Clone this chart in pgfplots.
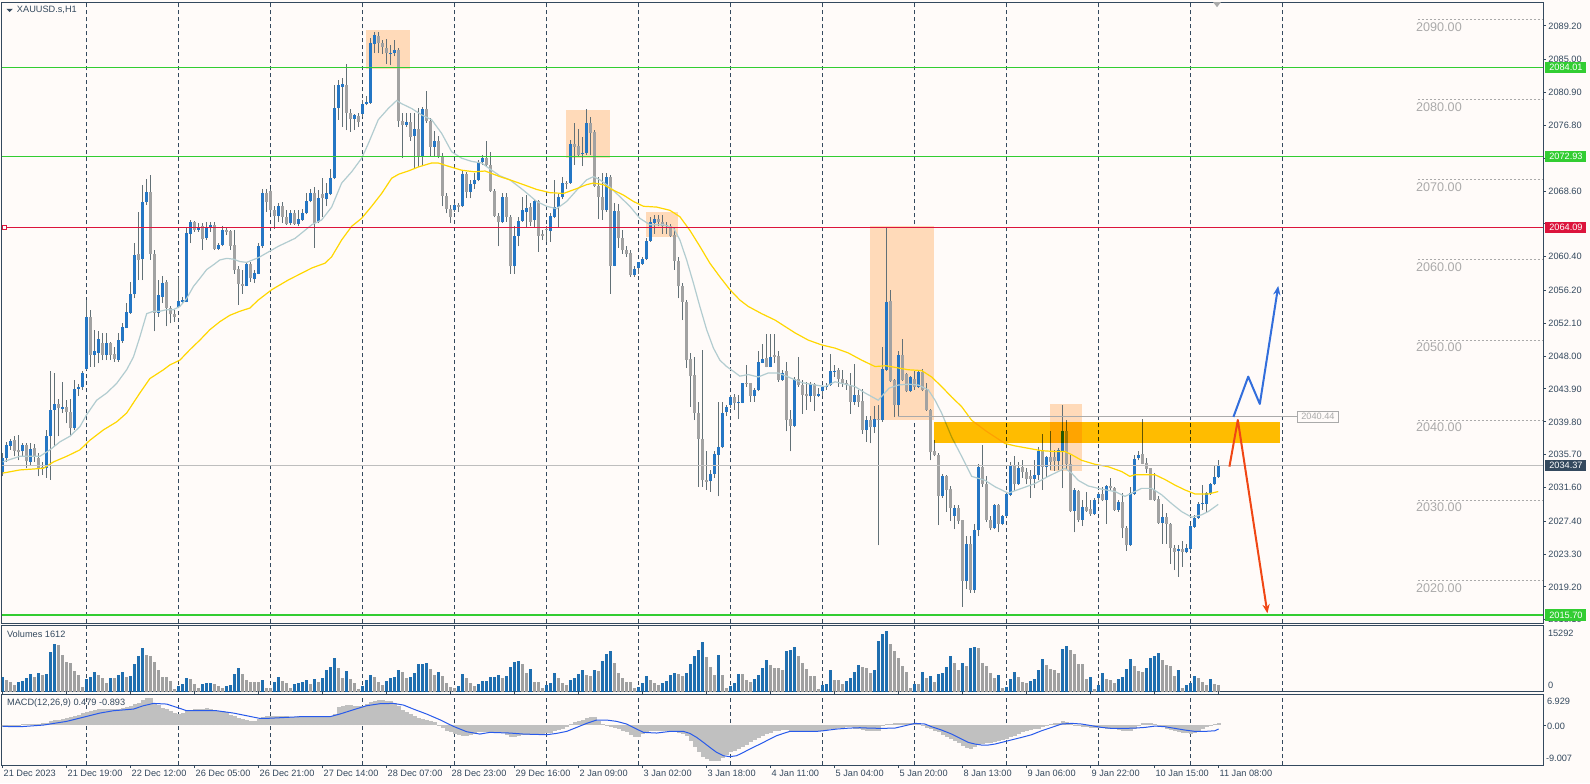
\documentclass[border=0pt]{standalone}
\usepackage{pgfplots}
\pgfplotsset{compat=1.18}
\usepackage{pgfplotstable}
\usepackage{fontspec}
\setmainfont{Liberation Sans}
\usetikzlibrary{arrows.meta}
\definecolor{bg}{RGB}{255,251,249}
\definecolor{frame}{RGB}{52,73,94}
\definecolor{upc}{RGB}{36,118,196}
\definecolor{dnc}{RGB}{162,162,162}
\definecolor{wick}{RGB}{98,112,118}
\definecolor{fastma}{RGB}{178,204,208}
\definecolor{slowma}{RGB}{255,215,0}
\definecolor{lgreen}{RGB}{50,205,50}
\definecolor{lred}{RGB}{220,20,60}
\definecolor{cur}{RGB}{190,190,190}
\definecolor{peach}{RGB}{255,218,185}
\definecolor{ybox}{RGB}{255,192,0}
\definecolor{lbl}{RGB}{170,170,170}
\definecolor{histc}{RGB}{192,192,192}
\definecolor{sigc}{RGB}{40,90,235}
\definecolor{volb}{RGB}{31,110,175}
\definecolor{volg}{RGB}{160,160,160}
\definecolor{arrb}{RGB}{50,110,220}
\definecolor{arrr}{RGB}{240,70,20}
\newcommand{\smf}{\fontsize{4.6}{5.5}\selectfont}
\newcommand{\lgf}{\fontsize{6.3}{7.5}\selectfont}

\pgfplotstableread{
i O H L C
0 2033.6 2035.9 2033.0 2035.3
1 2035.3 2037.3 2034.8 2036.9
2 2036.8 2037.6 2036.3 2037.4
3 2037.5 2038.0 2035.5 2036.2
4 2036.3 2038.1 2035.0 2036.0
5 2036.1 2037.1 2035.5 2036.9
6 2036.9 2037.2 2034.0 2034.9
7 2034.8 2037.1 2034.4 2036.4
8 2036.5 2037.0 2034.8 2035.4
9 2035.3 2035.9 2033.0 2034.1
10 2034.2 2034.8 2033.2 2034.0
11 2034.0 2038.8 2032.8 2038.0
12 2038.0 2046.1 2032.6 2041.3
13 2041.3 2045.9 2036.7 2042.0
14 2042.0 2042.7 2038.0 2041.5
15 2041.4 2044.8 2040.9 2041.7
16 2041.7 2042.5 2039.6 2041.0
17 2041.0 2042.7 2038.0 2039.0
18 2039.0 2045.0 2038.8 2043.9
19 2043.9 2044.5 2043.0 2044.2
20 2044.1 2046.1 2043.8 2045.9
21 2046.4 2055.0 2046.3 2052.9
22 2052.9 2053.8 2046.7 2048.2
23 2048.2 2051.3 2046.7 2048.7
24 2048.4 2051.1 2047.1 2050.2
25 2049.7 2050.9 2047.5 2048.2
26 2048.2 2050.9 2047.5 2049.6
27 2049.6 2049.8 2047.5 2048.2
28 2048.3 2049.2 2047.3 2047.6
29 2047.5 2050.9 2047.3 2050.0
30 2049.9 2052.1 2049.7 2051.6
31 2051.5 2054.6 2051.5 2053.5
32 2053.4 2057.3 2053.3 2055.8
33 2055.7 2062.1 2055.2 2060.6
34 2060.7 2066.0 2057.5 2060.0
35 2060.1 2069.4 2057.5 2067.2
36 2067.2 2070.1 2066.9 2068.5
37 2068.5 2070.6 2060.0 2060.8
38 2060.8 2061.3 2051.1 2053.4
39 2053.4 2057.5 2052.9 2055.6
40 2055.4 2058.0 2054.6 2057.1
41 2057.3 2057.5 2051.7 2054.0
42 2054.0 2054.2 2052.1 2053.2
43 2053.3 2053.8 2052.3 2052.9
44 2054.1 2057.9 2054.0 2054.9
45 2054.8 2055.4 2054.6 2055.0
46 2054.8 2064.0 2054.7 2063.4
47 2063.3 2065.0 2062.1 2064.7
48 2064.7 2064.9 2063.5 2063.8
49 2063.8 2064.6 2063.5 2064.0
50 2064.2 2064.6 2061.3 2062.6
51 2062.8 2064.8 2062.5 2064.0
52 2064.0 2064.8 2063.5 2064.4
53 2064.4 2064.8 2061.3 2061.4
54 2061.4 2062.1 2061.3 2061.9
55 2061.9 2064.2 2061.7 2063.8
56 2063.8 2064.0 2063.1 2063.5
57 2063.6 2063.8 2061.3 2061.8
58 2061.9 2063.8 2058.3 2058.7
59 2058.9 2059.2 2054.4 2057.0
60 2057.0 2058.8 2055.8 2056.8
61 2056.8 2059.8 2056.7 2059.5
62 2059.5 2059.8 2057.3 2057.7
63 2057.6 2058.8 2057.1 2058.4
64 2058.3 2062.1 2058.2 2061.7
65 2061.7 2068.9 2061.5 2068.4
66 2068.4 2068.9 2066.0 2067.2
67 2068.6 2068.9 2065.8 2066.2
68 2066.2 2066.7 2063.9 2065.5
69 2065.5 2067.1 2064.8 2066.7
70 2066.7 2067.2 2064.6 2065.4
71 2065.4 2066.2 2064.4 2064.5
72 2064.6 2066.2 2064.4 2065.9
73 2065.8 2066.2 2064.4 2064.5
74 2064.5 2066.2 2064.2 2065.1
75 2065.0 2066.4 2064.9 2065.9
76 2065.8 2068.3 2065.7 2067.4
77 2067.3 2068.9 2067.2 2068.3
78 2068.3 2069.1 2061.5 2064.6
79 2064.8 2068.7 2064.6 2067.7
80 2068.2 2070.2 2065.4 2067.7
81 2067.6 2069.6 2066.7 2068.3
82 2068.2 2071.4 2068.1 2070.2
83 2070.2 2081.8 2070.1 2079.0
84 2079.0 2082.5 2077.5 2081.8
85 2081.6 2082.7 2076.6 2082.0
86 2081.8 2084.5 2076.2 2078.4
87 2078.4 2078.8 2076.0 2077.6
88 2077.6 2078.2 2076.2 2078.1
89 2078.0 2078.3 2076.6 2077.2
90 2078.2 2080.0 2077.9 2079.5
91 2079.5 2080.5 2079.3 2079.7
92 2079.6 2087.7 2079.5 2087.1
93 2087.0 2088.5 2085.8 2088.1
94 2088.0 2088.4 2085.8 2087.1
95 2087.1 2087.4 2085.7 2086.6
96 2086.5 2087.6 2084.5 2085.8
97 2085.7 2086.8 2084.3 2085.8
98 2085.8 2087.5 2085.4 2086.2
99 2086.2 2086.4 2076.6 2077.3
100 2077.3 2078.3 2072.7 2076.8
101 2076.9 2078.3 2076.6 2077.2
102 2077.2 2078.3 2074.9 2075.4
103 2075.5 2078.4 2071.4 2076.4
104 2076.4 2079.0 2071.6 2072.9
105 2072.9 2079.1 2071.9 2078.9
106 2078.9 2081.1 2077.1 2077.3
107 2077.3 2077.7 2072.9 2074.1
108 2074.1 2076.1 2072.9 2074.8
109 2074.8 2075.5 2072.7 2072.9
110 2072.9 2073.3 2066.7 2068.0
111 2068.0 2068.3 2065.8 2066.4
112 2066.4 2066.9 2064.6 2065.3
113 2066.2 2067.1 2066.0 2066.8
114 2066.8 2067.1 2066.0 2066.6
115 2066.7 2071.2 2066.6 2070.7
116 2070.7 2071.0 2067.7 2068.5
117 2068.5 2070.0 2067.7 2069.5
118 2069.5 2070.8 2068.9 2070.0
119 2070.0 2072.5 2069.8 2072.2
120 2072.2 2073.1 2071.9 2072.7
121 2072.7 2074.8 2071.6 2071.8
122 2071.8 2073.5 2068.5 2068.6
123 2068.6 2068.9 2065.3 2065.5
124 2065.5 2065.8 2061.7 2064.7
125 2064.7 2068.3 2064.6 2067.8
126 2067.8 2068.4 2064.8 2065.4
127 2065.4 2065.6 2058.3 2059.2
128 2059.2 2064.2 2058.3 2063.0
129 2063.0 2065.4 2061.7 2064.9
130 2064.9 2067.9 2064.8 2066.2
131 2066.0 2068.1 2064.0 2066.5
132 2066.6 2067.1 2064.2 2064.8
133 2065.0 2067.5 2064.0 2067.4
134 2067.4 2067.5 2061.0 2063.0
135 2063.2 2063.7 2062.5 2063.0
136 2063.9 2064.2 2062.3 2063.7
137 2063.6 2065.8 2062.3 2065.5
138 2065.4 2070.0 2065.2 2066.6
139 2066.6 2068.2 2064.0 2067.9
140 2067.8 2070.4 2067.6 2069.6
141 2069.6 2069.8 2068.8 2069.5
142 2069.6 2075.0 2069.5 2074.5
143 2074.5 2077.1 2071.9 2074.1
144 2074.2 2076.4 2073.0 2073.1
145 2073.2 2075.4 2071.7 2073.4
146 2073.3 2078.8 2073.1 2077.1
147 2077.1 2077.9 2073.1 2075.9
148 2076.0 2076.2 2069.1 2069.2
149 2069.2 2070.4 2065.1 2067.9
150 2067.9 2070.9 2065.0 2066.2
151 2066.2 2070.9 2066.0 2070.4
152 2070.4 2070.6 2055.8 2059.3
153 2059.3 2067.1 2059.2 2066.1
154 2066.1 2067.0 2061.5 2062.7
155 2062.7 2063.8 2060.8 2061.2
156 2061.2 2061.7 2060.4 2060.7
157 2060.9 2061.3 2057.9 2058.1
158 2058.1 2059.2 2057.9 2058.9
159 2059.0 2059.8 2058.3 2059.7
160 2059.5 2060.4 2059.4 2060.1
161 2060.1 2062.7 2060.0 2062.4
162 2062.4 2065.4 2062.3 2064.7
163 2064.6 2065.6 2063.3 2065.1
164 2065.1 2065.6 2064.2 2064.7
165 2064.8 2065.6 2063.3 2064.2
166 2064.2 2064.8 2063.3 2064.4
167 2064.3 2064.5 2062.9 2063.0
168 2063.1 2064.0 2058.8 2059.9
169 2059.9 2060.4 2055.2 2056.7
170 2056.7 2057.1 2052.5 2054.8
171 2054.8 2055.0 2046.5 2047.5
172 2047.6 2048.4 2041.7 2045.5
173 2045.6 2047.9 2040.0 2040.9
174 2040.9 2042.3 2031.7 2037.7
175 2037.7 2048.8 2031.7 2032.5
176 2032.6 2036.1 2031.3 2032.3
177 2032.4 2033.8 2031.1 2033.3
178 2033.3 2036.1 2032.8 2035.8
179 2035.7 2042.3 2030.5 2036.7
180 2036.6 2042.3 2036.5 2040.9
181 2041.0 2041.9 2040.5 2041.6
182 2041.9 2043.2 2041.5 2042.9
183 2042.9 2043.3 2041.3 2042.1
184 2042.1 2043.2 2040.1 2042.3
185 2042.2 2044.7 2042.1 2044.6
186 2044.7 2046.9 2044.2 2044.5
187 2044.6 2044.7 2042.3 2043.0
188 2043.0 2044.0 2042.3 2043.8
189 2043.8 2048.7 2043.6 2047.3
190 2047.2 2049.5 2047.1 2047.7
191 2047.8 2050.8 2046.6 2046.7
192 2046.7 2050.8 2046.6 2047.9
193 2048.1 2050.8 2047.1 2047.9
194 2048.0 2048.6 2044.8 2045.0
195 2045.0 2046.3 2044.9 2045.9
196 2046.1 2047.3 2038.6 2040.0
197 2040.1 2041.3 2036.1 2039.3
198 2039.3 2045.4 2039.1 2045.2
199 2045.2 2047.9 2044.2 2044.4
200 2044.4 2045.0 2040.8 2043.2
201 2043.3 2044.8 2041.3 2043.0
202 2043.0 2044.8 2042.3 2044.5
203 2044.5 2044.7 2041.2 2043.0
204 2043.0 2044.0 2042.9 2043.3
205 2043.6 2044.3 2043.0 2044.2
206 2044.2 2044.6 2043.8 2044.3
207 2044.4 2048.3 2044.3 2046.1
208 2046.1 2046.9 2045.4 2046.2
209 2046.3 2046.5 2044.2 2045.2
210 2045.2 2046.3 2044.2 2044.6
211 2044.6 2045.0 2043.8 2044.4
212 2044.4 2045.9 2040.8 2042.3
213 2042.3 2047.0 2041.9 2043.2
214 2043.2 2043.8 2041.7 2042.3
215 2042.4 2043.9 2038.3 2038.8
216 2038.8 2040.5 2037.3 2040.0
217 2040.0 2040.5 2037.1 2039.1
218 2039.1 2041.8 2038.4 2040.1
219 2040.1 2041.9 2024.4 2040.0
220 2040.0 2049.2 2039.8 2046.4
221 2046.3 2064.1 2046.2 2054.8
222 2054.9 2056.3 2044.8 2044.9
223 2045.0 2045.2 2040.4 2041.9
224 2041.9 2048.6 2040.4 2048.2
225 2048.2 2050.2 2044.9 2045.0
226 2045.8 2045.9 2043.5 2043.6
227 2043.7 2045.5 2043.5 2045.4
228 2045.2 2046.1 2043.8 2044.2
229 2044.2 2046.3 2044.0 2046.0
230 2046.0 2046.4 2043.6 2043.8
231 2043.8 2044.7 2041.2 2041.3
232 2041.3 2041.4 2035.0 2036.0
233 2036.2 2037.5 2035.5 2035.7
234 2035.7 2035.9 2026.9 2030.6
235 2030.6 2033.3 2030.3 2033.0
236 2033.0 2033.2 2028.6 2031.3
237 2031.4 2031.8 2027.4 2029.1
238 2028.1 2029.4 2026.4 2029.1
239 2029.1 2029.4 2027.1 2027.4
240 2027.5 2027.6 2016.7 2020.0
241 2020.0 2025.5 2018.9 2024.6
242 2024.6 2025.5 2018.5 2018.8
243 2018.8 2027.1 2018.5 2026.3
244 2026.3 2034.6 2025.5 2034.2
245 2034.2 2036.9 2031.7 2032.1
246 2032.1 2033.0 2027.3 2027.6
247 2027.6 2028.0 2026.3 2026.5
248 2026.5 2029.5 2026.4 2029.4
249 2029.4 2029.6 2026.0 2027.1
250 2027.1 2028.2 2026.9 2028.0
251 2028.0 2030.9 2027.9 2030.8
252 2030.7 2034.8 2030.5 2034.3
253 2034.3 2035.5 2031.2 2032.0
254 2032.0 2034.8 2031.9 2034.1
255 2034.2 2035.0 2032.8 2033.5
256 2033.5 2034.1 2032.0 2032.7
257 2033.0 2033.8 2030.3 2032.7
258 2032.7 2035.0 2031.5 2033.2
259 2033.2 2036.7 2032.5 2036.1
260 2036.1 2038.3 2031.3 2034.2
261 2034.2 2035.5 2032.9 2035.4
262 2035.4 2038.6 2033.8 2034.8
263 2035.4 2036.3 2033.7 2034.9
264 2034.9 2036.5 2033.8 2036.3
265 2036.2 2041.9 2031.5 2038.7
266 2038.7 2040.0 2033.9 2034.6
267 2034.6 2035.7 2028.6 2028.7
268 2028.7 2031.5 2026.0 2031.3
269 2031.2 2031.3 2027.3 2027.6
270 2027.6 2030.1 2026.8 2029.2
271 2029.2 2031.0 2028.6 2028.7
272 2028.9 2030.1 2028.1 2028.3
273 2028.3 2030.3 2028.2 2030.0
274 2030.3 2031.1 2029.8 2030.8
275 2030.8 2031.7 2029.9 2030.0
276 2030.0 2031.9 2027.1 2031.8
277 2031.8 2032.8 2031.3 2031.5
278 2031.5 2031.7 2028.7 2028.8
279 2028.8 2030.1 2028.6 2029.8
280 2029.8 2030.9 2025.3 2026.5
281 2026.6 2026.8 2023.7 2024.4
282 2024.4 2031.7 2024.3 2030.9
283 2030.8 2035.7 2030.7 2035.2
284 2035.3 2036.2 2035.0 2035.7
285 2035.8 2040.1 2034.5 2034.6
286 2034.7 2035.3 2033.4 2033.9
287 2034.0 2034.1 2030.0 2030.1
288 2031.3 2033.4 2029.9 2030.1
289 2030.2 2030.5 2027.1 2027.2
290 2027.2 2029.6 2024.6 2027.9
291 2027.9 2028.4 2024.6 2027.1
292 2027.1 2027.2 2022.1 2024.0
293 2024.0 2024.4 2021.3 2023.6
294 2023.7 2024.4 2020.5 2023.9
295 2023.9 2024.9 2021.7 2023.5
296 2023.5 2024.5 2023.4 2024.0
297 2023.9 2026.9 2023.7 2026.8
298 2026.7 2028.2 2026.6 2027.8
299 2027.8 2029.8 2027.7 2029.6
300 2029.6 2031.9 2028.8 2029.7
301 2029.6 2031.0 2028.6 2030.9
302 2030.8 2032.2 2030.7 2032.0
303 2032.0 2034.4 2031.9 2032.9
304 2032.9 2035.0 2032.8 2034.4
}\candles

\pgfplotstableread{
i v c
0 3450 1
1 2670 0
2 2200 0
3 1570 0
4 2270 1
5 2510 1
6 3290 1
7 4230 1
8 3450 0
9 4390 1
10 3920 0
11 4230 1
12 9330 1
13 11290 1
14 10980 0
15 8550 0
16 6980 0
17 6660 0
18 4860 0
19 3920 0
20 1100 0
21 3060 1
22 3450 1
23 4630 1
24 3920 0
25 3290 0
26 2120 0
27 3290 1
28 3140 0
29 3920 1
30 4630 1
31 3450 0
32 3610 1
33 6590 1
34 8390 1
35 10350 1
36 8550 0
37 8390 0
38 7060 0
39 5020 0
40 3450 0
41 3370 0
42 2510 0
43 710 0
44 1330 1
45 1720 1
46 3140 1
47 2900 0
48 1880 0
49 780 0
50 1880 1
51 2040 1
52 2120 1
53 1880 0
54 1330 0
55 940 0
56 1330 1
57 1490 1
58 4230 1
59 5490 1
60 4230 0
61 2820 0
62 2350 0
63 2270 0
64 2200 0
65 2740 1
66 940 0
67 780 0
68 2350 1
69 3450 1
70 2510 0
71 2040 0
72 780 0
73 1880 1
74 2040 1
75 2350 1
76 2670 1
77 1880 0
78 2980 1
79 2270 0
80 3140 1
81 5020 1
82 5800 1
83 7840 1
84 5490 0
85 3140 0
86 4860 1
87 2980 0
88 2040 0
89 550 0
90 1410 1
91 2670 1
92 3920 1
93 3450 0
94 2270 0
95 1490 0
96 2510 1
97 3140 1
98 3450 1
99 5100 1
100 4700 0
101 3290 0
102 3450 1
103 4390 1
104 6430 1
105 6590 1
106 6740 1
107 5250 0
108 3920 0
109 4630 1
110 3610 0
111 2040 0
112 1100 0
113 780 0
114 1250 1
115 4230 1
116 3290 0
117 2040 0
118 1410 0
119 1720 1
120 2510 1
121 2550 1
122 3528 1
123 3560 1
124 3998 1
125 3293 0
126 3763 1
127 5880 1
128 7056 1
129 7291 1
130 6586 0
131 4469 0
132 5410 1
133 2352 0
134 2300 0
135 941 0
136 1646 1
137 2117 1
138 4469 1
139 3293 0
140 2117 0
141 1646 0
142 2822 1
143 3293 1
144 4234 1
145 5174 1
146 3998 0
147 3763 0
148 5174 1
149 4939 0
150 7291 1
151 8938 1
152 9643 1
153 6821 0
154 4469 0
155 3293 0
156 2352 0
157 2300 0
158 941 0
159 1176 1
160 2117 1
161 3763 1
162 2822 0
163 2117 0
164 1646 0
165 2117 1
166 2587 1
167 3998 1
168 4469 1
169 4234 0
170 3763 0
171 4469 1
172 6586 1
173 8467 1
174 9878 1
175 11760 1
176 8232 0
177 5880 0
178 3998 0
179 8702 1
180 3998 0
181 941 0
182 1411 1
183 2117 1
184 4234 1
185 4200 0
186 2822 0
187 2352 0
188 3058 1
189 3998 1
190 5645 1
191 7526 1
192 6350 0
193 5645 0
194 5600 0
195 5174 0
196 9643 1
197 9878 1
198 10584 1
199 8467 0
200 6821 0
201 5410 0
202 3763 0
203 3700 0
204 706 0
205 1646 1
206 1882 1
207 5174 1
208 2822 0
209 2800 0
210 1882 0
211 2587 1
212 3293 1
213 4704 1
214 6350 1
215 5880 0
216 5645 0
217 4390 0
218 5174 1
219 11995 1
220 13642 1
221 14347 1
222 11290 0
223 9643 0
224 7997 0
225 6115 0
226 4704 0
227 941 0
228 1882 1
229 1850 0
230 4704 1
231 3293 0
232 3763 1
233 2352 0
234 4234 1
235 4312 1
236 5880 1
237 8467 1
238 6821 0
239 5174 0
240 6821 1
241 6115 0
242 10349 1
243 10584 1
244 10349 0
245 6821 0
246 6115 0
247 4469 0
248 3293 0
249 3998 1
250 941 0
251 1176 1
252 3058 1
253 4704 1
254 3528 0
255 2352 0
256 2117 0
257 2587 1
258 3058 1
259 5174 1
260 7762 1
261 6350 0
262 5410 0
263 5174 0
264 4469 0
265 10114 1
266 10819 1
267 9878 0
268 8938 0
269 6586 0
270 6550 0
271 3058 0
272 3528 1
273 706 0
274 1646 1
275 4469 1
276 3058 0
277 2822 0
278 2117 0
279 3058 1
280 3528 1
281 5410 1
282 7762 1
283 6115 0
284 4939 0
285 4704 0
286 5645 1
287 7997 1
288 8467 1
289 9173 1
290 7526 0
291 6350 0
292 6115 0
293 3763 0
294 5174 1
295 941 0
296 1646 1
297 2117 1
298 3763 1
299 3293 0
300 2352 0
301 1646 0
302 3058 1
303 1803 0
304 1612 0
}\vols

\pgfplotstableread{
i h
0 -0.53
1 -0.53
2 -0.45
3 -0.45
4 -0.38
5 0.15
6 0.23
7 0.23
8 0.23
9 0.30
10 0.38
11 0.45
12 0.83
13 1.05
14 1.20
15 1.35
16 1.58
17 1.88
18 2.10
19 2.25
20 2.63
21 2.85
22 3.15
23 3.38
24 3.53
25 3.60
26 3.60
27 3.60
28 3.60
29 3.60
30 3.76
31 3.98
32 4.28
33 4.66
34 4.96
35 5.56
36 6.01
37 6.08
38 4.96
39 4.51
40 3.91
41 3.60
42 3.15
43 2.78
44 2.48
45 2.78
46 3.15
47 3.45
48 3.53
49 3.60
50 3.68
51 3.83
52 3.60
53 3.38
54 3.23
55 3.08
56 2.85
57 2.33
58 1.95
59 1.65
60 1.43
61 1.20
62 0.98
63 0.90
64 1.35
65 1.73
66 1.95
67 2.03
68 2.00
69 2.00
70 2.00
71 1.95
72 1.90
73 1.90
74 1.95
75 2.00
76 2.05
77 2.05
78 2.00
79 2.00
80 2.00
81 2.05
82 2.10
83 2.55
84 3.98
85 4.36
86 4.51
87 4.51
88 4.36
89 4.21
90 4.21
91 4.66
92 5.26
93 5.48
94 5.63
95 5.63
96 5.48
97 5.33
98 4.96
99 4.21
100 3.38
101 2.85
102 2.40
103 2.03
104 1.58
105 1.35
106 1.20
107 0.98
108 0.60
109 -0.30
110 -0.75
111 -1.28
112 -1.65
113 -2.03
114 -2.33
115 -2.40
116 -2.40
117 -2.18
118 -1.95
119 -1.65
120 -1.50
121 -1.50
122 -1.65
123 -1.65
124 -1.73
125 -1.88
126 -2.18
127 -2.63
128 -2.78
129 -2.48
130 -2.18
131 -2.18
132 -2.18
133 -2.18
134 -2.18
135 -2.03
136 -1.88
137 -1.73
138 -1.43
139 -1.13
140 -0.83
141 -0.53
142 0.23
143 0.60
144 0.83
145 1.13
146 1.58
147 1.73
148 1.73
149 0.83
150 0.23
151 -0.15
152 -0.53
153 -0.68
154 -0.90
155 -1.28
156 -1.65
157 -2.18
158 -2.63
159 -2.63
160 -2.03
161 -1.65
162 -1.43
163 -1.28
164 -1.28
165 -1.28
166 -1.28
167 -1.43
168 -1.58
169 -1.73
170 -2.03
171 -2.40
172 -3.68
173 -5.03
174 -6.16
175 -7.13
176 -7.74
177 -8.04
178 -8.04
179 -8.04
180 -7.43
181 -6.68
182 -6.16
183 -5.78
184 -5.41
185 -4.88
186 -4.43
187 -3.91
188 -3.38
189 -2.93
190 -2.48
191 -2.03
192 -1.73
193 -1.43
194 -1.28
195 -1.13
196 -1.13
197 -1.28
198 -1.43
199 -1.43
200 -1.43
201 -1.43
202 -1.43
203 -1.43
204 -1.43
205 -1.28
206 -1.13
207 -0.98
208 -0.90
209 -0.75
210 -0.68
211 -0.53
212 -0.38
213 -0.90
214 -0.90
215 -1.13
216 -1.28
217 -1.28
218 -1.43
219 -1.43
220 0.08
221 0.23
222 0.23
223 0.38
224 0.45
225 0.45
226 0.45
227 0.45
228 0.38
229 0.23
230 -0.15
231 -0.68
232 -0.90
233 -1.28
234 -1.65
235 -2.18
236 -2.63
237 -3.15
238 -3.53
239 -3.98
240 -4.66
241 -5.18
242 -5.48
243 -5.03
244 -4.58
245 -4.28
246 -4.13
247 -3.98
248 -3.91
249 -3.68
250 -3.38
251 -3.08
252 -2.78
253 -2.40
254 -2.03
255 -1.65
256 -1.28
257 -1.13
258 -0.98
259 -0.83
260 -0.53
261 -0.15
262 0.23
263 0.38
264 0.53
265 0.98
266 0.75
267 0.38
268 0.08
269 -0.15
270 -0.38
271 -0.53
272 -0.68
273 -0.68
274 -0.60
275 -0.68
276 -0.83
277 -0.90
278 -0.98
279 -1.13
280 -1.28
281 -1.43
282 -1.28
283 -0.90
284 -0.23
285 0.38
286 0.45
287 0.38
288 0.15
289 -0.08
290 -0.53
291 -0.83
292 -1.13
293 -1.35
294 -1.50
295 -1.73
296 -1.88
297 -1.95
298 -1.73
299 -1.28
300 -0.98
301 -0.53
302 -0.15
303 0.23
304 0.48
}\macdh

\pgfplotsset{
  panel/.style={
    scale only axis, width=770.5pt, xmin=-0.17, xmax=385.1,
    axis line style={draw=frame, line width=0.5pt},
    tick align=outside, major tick length=1.5pt,
    tick style={draw=frame, line width=0.5pt},
    ytick pos=right, yticklabel pos=right,
    xtick={21,44,...,320}, xticklabels={},
    x tick style={draw=none},
    xmajorgrids,
    major x grid style={draw=frame, line width=0.5pt, dash pattern=on 2pt off 1.5pt},
    yticklabel style={font=\smf, text=frame, inner sep=0pt, xshift=1pt},
    clip mode=individual,
  },
}
\tikzset{
  valbox/.style={anchor=west, xshift=1pt, inner sep=0pt, minimum height=5.6pt,
    minimum width=20.5pt, text=white, font=\smf},
  rlev/.style={draw=lbl, line width=0.5pt, dash pattern=on 1pt off 1pt},
  rtxt/.style={anchor=west, text=lbl, font=\lgf, inner sep=0pt, yshift=-3.6pt},
}

\begin{document}
\begin{tikzpicture}
\useasboundingbox (0,0) rectangle (795pt,-391.5pt);
\fill[bg] (0,0) rectangle (795pt,-391.5pt);

% ---------------- price panel ----------------
\begin{axis}[panel, at={(1pt,-1pt)}, anchor=north west, height=310.65pt,
  ymin=2014.66, ymax=2092.19,
  ytick={2015.1,2019.2,2023.3,2027.4,2031.6,2035.7,2039.8,2043.9,2048,2052.1,2056.2,2060.4,2064.5,2068.6,2072.7,2076.8,2080.9,2085,2089.2},
  yticklabels={2015.10,2019.20,2023.30,2027.40,2031.60,2035.70,2039.80,2043.90,2048.00,2052.10,2056.20,2060.40,,2068.60,,2076.80,2080.90,2085.00,2089.20},
]
\fill[peach] (axis cs:90.8,2083.83) rectangle (axis cs:101.8,2088.70);
\fill[peach] (axis cs:140.8,2072.77) rectangle (axis cs:151.8,2078.71);
\fill[peach] (axis cs:160.8,2062.87) rectangle (axis cs:168.8,2065.99);
\fill[peach] (axis cs:216.8,2040.03) rectangle (axis cs:232.8,2064.24);
\fill[peach] (axis cs:261.8,2033.67) rectangle (axis cs:269.8,2042.03);

\addplot[draw=none, mark=none, forget plot,
  error bars/.cd, y dir=plus, y explicit, error mark=none,
  error bar style={draw=wick, line width=0.5pt}]
  table[x=i, y=L, y error expr={\thisrow{H}-\thisrow{L}}]{\candles};
\addplot[draw=none, mark=none, forget plot,
  error bars/.cd, y dir=plus, y explicit, error mark=none,
  error bar style={draw=upc, line width=1.5pt}]
  table[x=i, y expr={\thisrow{C}>\thisrow{O} ? \thisrow{O} : 2000},
        y error expr={\thisrow{C}>\thisrow{O} ? \thisrow{C}-\thisrow{O} : 0}]{\candles};
\addplot[draw=none, mark=none, forget plot,
  error bars/.cd, y dir=plus, y explicit, error mark=none,
  error bar style={draw=dnc, line width=1.5pt}]
  table[x=i, y expr={\thisrow{C}<\thisrow{O} ? \thisrow{C} : 2000},
        y error expr={\thisrow{C}<\thisrow{O} ? \thisrow{O}-\thisrow{C} : 0}]{\candles};

\addplot[fastma, line width=0.6pt, mark=none] coordinates {
(0,2034.8) (4.3,2035.5) (9.3,2035.5) (11.8,2036.3) (14.3,2037.3) (16.8,2038.0) (19.3,2039.2) (21,2040.7) (23.5,2042.5) (26,2043.4) (28.5,2044.6) (31,2046.3) (32.7,2047.9) (34.3,2050.4) (36,2053.3) (37.7,2053.6) (39.3,2053.6) (41,2053.8) (42.7,2053.8) (44.3,2054.2) (46,2055.2) (47.7,2056.7) (49.3,2057.7) (51,2058.8) (52.7,2059.4) (54.3,2060.0) (56,2060.2) (57.7,2060.1) (59.3,2059.8) (61,2059.7) (64,2060.3) (68.9,2061.7) (73.1,2062.7) (77.3,2064.4) (79.75,2065.0) (82.25,2066.6) (84.75,2069.6) (87.25,2071.0) (89.75,2072.7) (91.4,2074.5) (93.9,2077.5) (96.4,2078.9) (98.5,2079.9) (99.75,2079.5) (102.25,2078.9) (104.75,2078.1) (107.25,2077.5) (109.75,2075.8) (112.25,2073.5) (114.75,2072.7) (117.25,2072.3) (119.75,2072.1) (122.25,2071.2) (124.3,2070.5) (126.8,2070.0) (130.2,2068.7) (133.5,2067.3) (136,2066.7) (138.5,2066.4) (141,2067.3) (143.5,2068.7) (146,2070.0) (147.7,2070.4) (149.3,2070.0) (151.8,2069.1) (154.3,2067.9) (156.8,2066.7) (159.3,2065.2) (161.8,2064.4) (165.2,2064.4) (167.7,2064.0) (169.3,2062.5) (171,2060.0) (172.7,2057.1) (174.3,2054.2) (176,2051.3) (177.7,2049.0) (179.3,2047.5) (181,2046.7) (182.7,2046.1) (184.3,2045.5) (186.4,2045.7) (188.9,2045.4) (191.4,2045.9) (193.9,2045.9) (196.4,2045.4) (199.75,2044.7) (203.1,2044.4) (205.6,2044.2) (208.1,2044.8) (210.6,2044.5) (213.1,2044.2) (215.6,2043.4) (218.9,2042.5) (221.6,2044.0) (224,2044.4) (226.4,2044.5) (228.9,2044.4) (231.4,2043.8) (233.1,2042.5) (234.75,2040.9) (237.25,2037.9) (239.75,2035.5) (242.25,2033.0) (245.6,2032.5) (248.1,2031.7) (251.4,2030.9) (254.75,2031.5) (258.1,2032.1) (261.4,2033.0) (263.9,2033.6) (265.6,2034.0) (267.25,2033.4) (268.9,2032.5) (271.4,2031.8) (274.75,2031.4) (278.1,2031.1) (280.6,2030.5) (282.25,2030.9) (284.75,2031.5) (287.25,2031.5) (289.75,2030.7) (292.25,2029.6) (294.75,2028.6) (297.25,2027.9) (299.75,2028.2) (301.4,2028.6) (303.9,2029.5)
};
\addplot[slowma, line width=0.6pt, mark=none] coordinates {
(0,2033.4) (4.3,2033.8) (10.2,2034.0) (12.7,2034.8) (16,2035.5) (19.3,2036.3) (21.8,2037.5) (25.2,2038.8) (28.5,2039.8) (31,2040.9) (34.3,2043.4) (36.8,2045.2) (40.2,2046.3) (41.8,2046.9) (44.3,2047.5) (46.8,2048.8) (49.3,2050.0) (51.8,2051.3) (54.3,2052.3) (56.8,2053.1) (59.3,2053.6) (61.8,2054.0) (63.9,2055.0) (67.3,2056.3) (71.4,2057.5) (77.3,2059.0) (80.6,2059.6) (82.25,2060.4) (84.75,2062.5) (87.25,2064.2) (89.75,2065.2) (92.25,2066.7) (94.75,2068.3) (97.25,2070.2) (99,2070.7) (101.4,2071.1) (103.9,2071.6) (107.25,2072.1) (108.9,2072.1) (111.4,2071.7) (114.75,2071.2) (118,2071.0) (120.6,2071.1) (124.3,2070.4) (126.8,2070.0) (130.2,2069.4) (133.5,2068.8) (136.8,2068.4) (140.2,2068.3) (143.5,2068.9) (146,2069.4) (147.7,2069.6) (150.2,2069.4) (152.7,2068.7) (155.2,2068.1) (157.7,2067.3) (160.2,2066.7) (163.5,2066.6) (166.8,2066.2) (169.3,2065.4) (171.8,2063.7) (174.3,2061.7) (176.8,2059.6) (179.3,2057.9) (181.8,2056.3) (184.3,2055.0) (186.4,2054.2) (189.75,2053.3) (193.1,2052.5) (195.6,2051.7) (198.1,2050.9) (201.4,2050.0) (204.75,2049.4) (208.1,2049.0) (211.4,2048.4) (214.75,2047.5) (218.1,2046.7) (220.75,2046.8) (223.1,2046.6) (226.4,2046.3) (229.75,2046.2) (232.25,2045.4) (234.75,2044.2) (237.25,2042.9) (239.75,2041.7) (242.25,2040.0) (246,2038.6) (250.6,2037.1) (253.1,2036.8) (256.4,2036.5) (259.75,2036.2) (263.1,2036.1) (265.6,2036.1) (267.25,2035.7) (269.75,2035.0) (273.1,2034.5) (276.4,2034.2) (279.75,2033.6) (281.8,2033.0) (283.1,2033.2) (286.4,2033.2) (288.1,2033.2) (290.6,2032.6) (293.1,2031.9) (295.6,2031.3) (298.1,2030.8) (301.4,2030.8) (303.9,2031.1)
};

\draw[lgreen, line width=0.6pt] (axis cs:-0.17,2084.01) -- (axis cs:385.1,2084.01);
\draw[lgreen, line width=0.6pt] (axis cs:-0.17,2072.93) -- (axis cs:385.1,2072.93);
\draw[lgreen, line width=0.6pt] (axis cs:-0.17,2015.70) -- (axis cs:385.1,2015.70);
\draw[lred, line width=0.6pt] (axis cs:-0.17,2064.09) -- (axis cs:385.1,2064.09);
\draw[cur, line width=0.5pt] (axis cs:-0.17,2034.37) -- (axis cs:385.1,2034.37);
\draw[lbl, line width=0.5pt] (axis cs:223.8,2040.44) -- (axis cs:323.6,2040.44);

\fill[ybox, blend mode=multiply] (axis cs:232.8,2037.2) rectangle (axis cs:319.3,2039.8);

\draw[rlev] (axis cs:353.8,2090) -- (axis cs:385.1,2090);
\draw[rlev] (axis cs:353.8,2080) -- (axis cs:385.1,2080);
\draw[rlev] (axis cs:353.8,2070) -- (axis cs:385.1,2070);
\draw[rlev] (axis cs:353.8,2060) -- (axis cs:385.1,2060);
\draw[rlev] (axis cs:353.8,2050) -- (axis cs:385.1,2050);
\draw[rlev] (axis cs:353.8,2040) -- (axis cs:385.1,2040);
\draw[rlev] (axis cs:353.8,2030) -- (axis cs:385.1,2030);
\draw[rlev] (axis cs:353.8,2020) -- (axis cs:385.1,2020);
\node[rtxt] at (axis cs:353.3,2090) {2090.00};
\node[rtxt] at (axis cs:353.3,2080) {2080.00};
\node[rtxt] at (axis cs:353.3,2070) {2070.00};
\node[rtxt] at (axis cs:353.3,2060) {2060.00};
\node[rtxt] at (axis cs:353.3,2050) {2050.00};
\node[rtxt] at (axis cs:353.3,2040) {2040.00};
\node[rtxt] at (axis cs:353.3,2030) {2030.00};
\node[rtxt] at (axis cs:353.3,2020) {2020.00};

\draw[arrb, line width=1pt, line join=round, -{Stealth[length=4.5pt,width=3.6pt]}]
  (axis cs:307.7,2040.41) -- (axis cs:311.4,2045.44) -- (axis cs:314.3,2042.03) -- (axis cs:318.9,2056.75);
\draw[arrr, line width=1pt, line join=round, -{Stealth[length=4.5pt,width=3.6pt]}]
  (axis cs:306.7,2034.21) -- (axis cs:308.8,2040.03) -- (axis cs:316.2,2015.91);

\node[anchor=west, draw=lbl, fill=bg, text=lbl, font=\smf, inner sep=0pt, minimum width=20.5pt, minimum height=5.6pt, line width=0.4pt] at (axis cs:323.6,2040.44) {2040.44};

\node[valbox, fill=lgreen] at (axis cs:385.1,2084.01) {2084.01};
\node[valbox, fill=lgreen] at (axis cs:385.1,2072.93) {2072.93};
\node[valbox, fill=lred] at (axis cs:385.1,2064.09) {2064.09};
\node[valbox, fill=frame] at (axis cs:385.1,2034.37) {2034.37};
\node[valbox, fill=lgreen] at (axis cs:385.1,2015.70) {2015.70};
\end{axis}

% ---------------- volume panel ----------------
\begin{axis}[panel, at={(1pt,-312.85pt)}, anchor=north west, height=33pt,
  ymin=0, ymax=15530, ytick=\empty]
\addplot[ycomb, volb, line width=1.5pt, mark=none]
  table[x=i, y expr={\thisrow{c}==1 ? \thisrow{v} : 0}]{\vols};
\addplot[ycomb, volg, line width=1.5pt, mark=none]
  table[x=i, y expr={\thisrow{c}==0 ? \thisrow{v} : 0}]{\vols};
\end{axis}

% ---------------- MACD panel ----------------
\begin{axis}[panel, at={(1pt,-347.15pt)}, anchor=north west, height=35.35pt,
  ymin=-9.007, ymax=6.929, ytick={0}, yticklabels={},
  xtick={0,16,...,304},
  xticklabels={21 Dec 2023,21 Dec 19:00,22 Dec 12:00,26 Dec 05:00,26 Dec 21:00,27 Dec 14:00,28 Dec 07:00,28 Dec 23:00,29 Dec 16:00,2 Jan 09:00,3 Jan 02:00,3 Jan 18:00,4 Jan 11:00,5 Jan 04:00,5 Jan 20:00,8 Jan 13:00,9 Jan 06:00,9 Jan 22:00,10 Jan 15:00,11 Jan 08:00},
  x tick style={draw=frame},
  xmajorgrids=false,
  xticklabel style={font=\smf, text=frame, anchor=west, inner sep=0pt, yshift=-2.6pt, xshift=0.3pt},
  extra x ticks={21,44,...,320}, extra x tick labels={},
  extra x tick style={grid=major, major tick length=0pt},
]
\addplot[ycomb, histc, line width=2pt, mark=none] table[x=i, y=h]{\macdh};
\addplot[sigc, line width=0.5pt, mark=none] coordinates {
(0,-0.30) (4.3,-0.38) (10.2,0) (16,0.83) (21,1.95) (24.3,2.70) (27.7,3.23) (32.7,3.60) (35.2,4.36) (37.7,4.88) (41,4.73) (44.3,3.76) (46,3.23) (49.3,3.23) (53.5,3.23) (57.7,2.70) (61,2.10) (64.3,1.50) (66,1.50) (74.3,1.88) (81.8,1.88) (84.3,2.48) (87.7,3.45) (91,4.36) (94.3,4.81) (97.7,4.88) (100.2,4.51) (102.7,3.60) (106,2.48) (109.3,1.20) (112.7,-0.30) (116,-1.50) (119.3,-2.03) (121.8,-1.65) (126.8,-1.80) (130.2,-2.03) (136,-2.18) (138.5,-1.88) (141,-1.43) (143.5,-0.53) (146,0.38) (148.5,1.13) (151,1.13) (153.5,0.83) (156,0.23) (158.5,-0.90) (160.2,-1.65) (163.5,-1.80) (166.8,-1.43) (170.2,-1.43) (171.8,-1.88) (173.5,-2.78) (175.2,-3.91) (176.8,-5.03) (178.5,-6.16) (180.2,-6.91) (181.8,-7.13) (183.5,-6.91) (185.2,-6.16) (186.8,-5.41) (188.5,-4.66) (190.2,-3.91) (191.8,-3.15) (193.5,-2.40) (195.2,-1.88) (196.8,-1.43) (200.2,-1.43) (203.5,-1.43) (205.2,-1.28) (208.5,-0.90) (211.8,-0.68) (214.3,-0.60) (216.4,-0.68) (219.75,-0.75) (223.1,-0.68) (225.6,-0.15) (228.1,0.38) (230.6,0.23) (232.25,-0.38) (234.75,-1.13) (237.25,-2.03) (239.75,-3.15) (241.4,-3.91) (243.1,-4.28) (244.75,-4.51) (246.4,-4.51) (248.1,-4.28) (249.75,-3.91) (251.4,-3.53) (253.1,-3.15) (254.75,-2.78) (257.25,-2.18) (259.75,-1.28) (262.25,-0.53) (264.75,0.23) (267.25,0.38) (269.75,0.23) (272.25,-0.15) (274.75,-0.53) (277.25,-0.75) (280.6,-0.75) (283.1,-0.68) (285.6,-0.53) (288.1,-0.23) (290.6,-0.38) (293.1,-0.75) (295.6,-1.13) (298.1,-1.43) (300.6,-1.43) (303.1,-1.28) (304,-0.89)
};
\end{axis}

\fill[frame] (3.2pt,-4.4pt) -- (6.4pt,-4.4pt) -- (4.8pt,-6.0pt) -- cycle;
\node[anchor=west, text=frame, font=\smf, inner sep=0pt] at (8.3pt,-5.1pt) {XAUUSD.s,H1};
\node[anchor=west, text=frame, font=\smf, inner sep=0pt] at (3.35pt,-317.15pt) {Volumes 1612};
\node[anchor=west, text=frame, font=\smf, inner sep=0pt] at (3.35pt,-351.65pt) {MACD(12,26,9) 0.479 -0.893};
\node[anchor=west, text=frame, font=\smf, inner sep=0pt] at (773.8pt,-316.6pt) {15292};
\node[anchor=west, text=frame, font=\smf, inner sep=0pt] at (773.8pt,-342.6pt) {0};
\node[anchor=west, text=frame, font=\smf, inner sep=0pt] at (773.3pt,-350.6pt) {6.929};
\node[anchor=west, text=frame, font=\smf, inner sep=0pt] at (773.3pt,-363.4pt) {0.00};
\node[anchor=west, text=frame, font=\smf, inner sep=0pt] at (772.8pt,-379.2pt) {-9.007};
\draw[lred, fill=white, line width=0.4pt] (1.2pt,-112.6pt) rectangle (3.2pt,-114.6pt);
\fill[lbl] (606.5pt,-1pt) -- (610.5pt,-1pt) -- (608.5pt,-3.6pt) -- cycle;
\end{tikzpicture}
\end{document}
